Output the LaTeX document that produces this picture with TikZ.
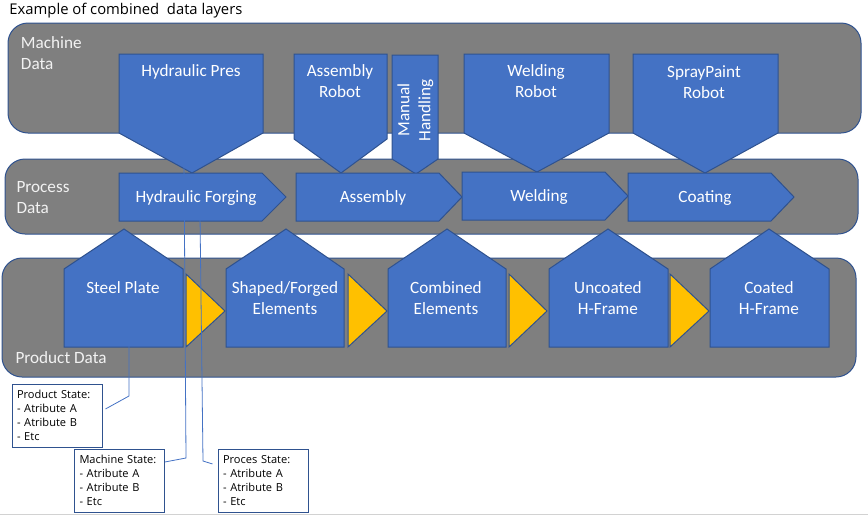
\documentclass[tikz,border=0pt]{standalone}
\usepackage{fontspec}
\setmainfont{Carlito}
\newfontfamily\notefont{Open Sans}
\usetikzlibrary{positioning}
\definecolor{layergray}{HTML}{7F7F7F}
\definecolor{partblue}{HTML}{4472C4}
\definecolor{edgeblue}{HTML}{2F528F}
\definecolor{stepyellow}{HTML}{FFC000}

\begin{document}
\begin{tikzpicture}[x=0.75pt,y=-0.75pt,line width=0.75pt,
                    layer/.style={draw=edgeblue,fill=layergray,rounded corners=15pt},
                    part/.style={draw=edgeblue,fill=partblue},
                    flow/.style={draw=edgeblue,fill=stepyellow},
                    part text/.style={text=white,align=center,inner sep=0pt,font=\fontsize{12.9}{15.75}\selectfont},
                    layer text/.style={text=white!95!black,align=left,anchor=west,inner sep=0pt,font=\fontsize{12.9}{15.75}\selectfont},
                    state box/.style={draw=edgeblue,fill=white,align=left,text width=60pt,minimum width=67.5pt,minimum height=47.25pt,inner xsep=3.75pt,font=\notefont\fontsize{8.3}{10.4}\selectfont},
                    callout/.style={draw=partblue,line width=0.6pt}
                   ]
  \useasboundingbox (0,0) rectangle (868,515);
  \node[anchor=west,inner sep=0pt,font=\notefont\fontsize{11.1}{13}\selectfont] (title) at (9,10.5) {Example of combined~ data layers};

  % layers
  \draw[layer] (8,23) rectangle (861,133);
  \draw[layer] (5,159) rectangle (858,234);
  \draw[layer] (2,258) rectangle (856,377);
  \node[layer text] (machine) at (20.5,53) {Machine\\Data};
  \node[layer text] (process) at (16,198) {Process\\Data};
  \node[layer text] (product) at (15,357.5) {Product Data};

  % machine data
  \draw[part] (119,54) -- (263,54) -- (263,133) -- (192,173) -- (119,133) -- cycle;
  \draw[part] (294,54) -- (387,54) -- (387,139) -- (341,173) -- (294,139) -- cycle;
  \draw[part] (392,55) -- (438,55) -- (438,159) -- (416,174) -- (392,159) -- cycle;
  \draw[part] (464,54) -- (609,54) -- (609,133) -- (537,172) -- (464,133) -- cycle;
  \draw[part] (633,54) -- (778,54) -- (778,133) -- (705,173) -- (633,133) -- cycle;
  \node[part text] (press) at (191,72) {Hydraulic Pres};
  \node[part text] (arobot) at (340,81.5) {Assembly\\Robot};
  \node[part text,rotate=90] (manual) at (415.5,110) {Manual\\Handling};
  \node[part text] (wrobot) at (536,81) {Welding\\Robot};
  \node[part text] (srobot) at (704,82.5) {SprayPaint\\Robot};

  % process data
  \draw[part] (119,173) -- (262,173) -- (286,197) -- (262,221) -- (119,221) -- cycle;
  \draw[part] (296,173) -- (439,173) -- (462,197) -- (439,221) -- (296,221) -- cycle;
  \draw[part] (462,172) -- (605,172) -- (628,196) -- (605,220) -- (462,220) -- cycle;
  \draw[part] (628,173) -- (771,173) -- (794,197) -- (771,221) -- (628,221) -- cycle;
  \node[part text] (forging) at (196,198) {Hydraulic Forging};
  \node[part text] (assembly) at (373,198) {Assembly};
  \node[part text] (welding) at (539,197) {Welding};
  \node[part text] (coating) at (705,198) {Coating};

  % product data
  \foreach \l/\t/\r in {64/124/183,226/286/344,388/447/506,549/608/668,710/769/829}
    \draw[part] (\l,347) -- (\l,269) -- (\t,229) -- (\r,269) -- (\r,347) -- cycle;
  \foreach \l/\t in {186/225,348/387,509/547,670/709}
    \draw[flow] (\l,274) -- (\t,311) -- (\l,347) -- cycle;
  \node[part text] (plate) at (123,288) {Steel Plate};
  \node[part text] (shaped) at (285,298) {Shaped/Forged\\Elements};
  \node[part text] (combined) at (446,298) {Combined\\Elements};
  \node[part text] (uncoated) at (608,298) {Uncoated\\H-Frame};
  \node[part text] (coated) at (769,298) {Coated\\H-Frame};

  % state notes
  \node[state box] (pstate) at (57,415.5) {Product State:\\- Atribute A\\- Atribute B\\- Etc};
  \node[state box] (mstate) at (119.5,480.5) {Machine State:\\- Atribute A\\- Atribute B\\- Etc};
  \node[state box] (rstate) at (263,480.5) {Proces State:\\- Atribute A\\- Atribute B\\- Etc};

  \coordinate (plate pin) at (129,337);
  \coordinate (plate bend) at (129,396);
  \coordinate (press pin) at (184,159);
  \coordinate (press bend) at (186,458);
  \coordinate (forging pin) at (200,215);
  \coordinate (forging bend) at (203,461);
  \draw[callout] (plate pin) -- (plate bend) -- ([xshift=2.25pt,yshift=4.9pt]pstate.east);
  \draw[callout] (press pin) -- (press bend) -- ([yshift=13.9pt]mstate.east);
  \draw[callout] (forging pin) -- (forging bend) -- ([xshift=-3.75pt,yshift=12.4pt]rstate.west);

  \draw[gray!35] (0,514) -- (868,514);
\end{tikzpicture}
\end{document}
